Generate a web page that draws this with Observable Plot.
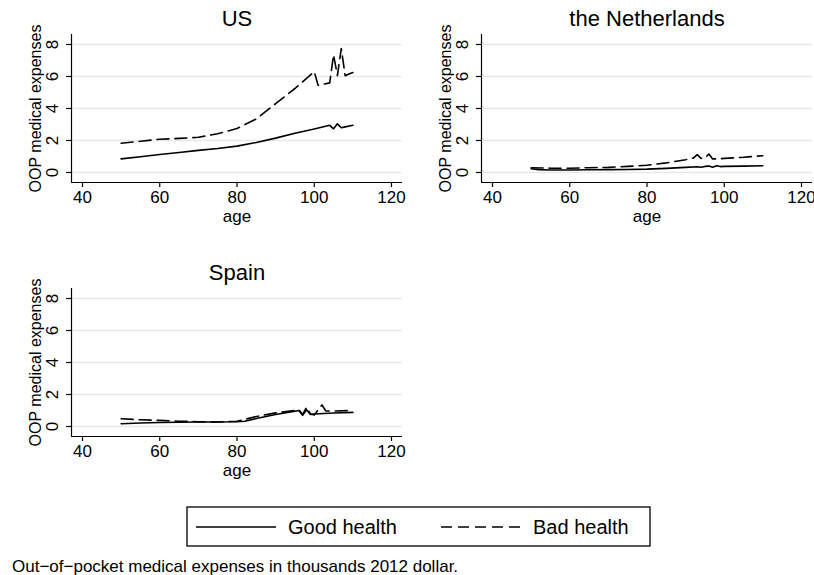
<!DOCTYPE html>
<html>
<head>
<meta charset="utf-8">
<script src="https://cdn.jsdelivr.net/npm/d3@7"></script>
<script src="https://cdn.jsdelivr.net/npm/@observablehq/plot@0.6"></script>
<style>
  html, body { margin: 0; padding: 0; background: #fff; }
  #root { position: relative; width: 814px; height: 575px; overflow: hidden; background: #fff;
          font-family: "Liberation Sans", Arial, Helvetica, sans-serif; }
  #root svg { position: absolute; }
</style>
</head>
<body>
<div id="root"></div>
<script>
// ---- data ----
const panelTitles = ["US", "the Netherlands", "Spain"];
const seriesNames = ["Good health", "Bad health"];
const xTicks = [40, 60, 80, 100, 120];
const yTicks = [0, 2, 4, 6, 8];
const xDomain = [37.15, 122.85];
const yDomain = [-0.625, 8.625];

const usGoodAge = [50, 55, 60, 65, 70, 75, 80, 85, 90, 95, 100, 104, 105, 106, 107, 108, 110];
const usGood    = [0.85, 0.98, 1.12, 1.25, 1.38, 1.5, 1.65, 1.88, 2.15, 2.45, 2.72, 2.95, 2.73, 3.04, 2.8, 2.85, 2.95];
const usBadAge  = [50, 55, 60, 65, 70, 75, 80, 85, 90, 95, 100, 101, 102, 103, 104, 105, 106, 107, 108, 109, 110];
const usBad     = [1.83, 1.95, 2.08, 2.13, 2.2, 2.42, 2.75, 3.35, 4.3, 5.25, 6.3, 5.45, 5.5, 5.55, 5.6, 7.35, 6.05, 7.75, 6.05, 6.15, 6.25];

const nlGoodAge = [50, 52, 55, 60, 65, 70, 75, 80, 85, 90, 93, 94, 95, 96, 97, 98, 99, 100, 105, 110];
const nlGood    = [0.23, 0.18, 0.16, 0.16, 0.17, 0.18, 0.19, 0.21, 0.26, 0.32, 0.36, 0.33, 0.38, 0.4, 0.33, 0.42, 0.37, 0.38, 0.4, 0.42];
const nlBadAge  = [50, 55, 60, 65, 70, 75, 80, 85, 90, 92, 93, 94, 95, 96, 97, 98, 100, 105, 110];
const nlBad     = [0.3, 0.27, 0.27, 0.3, 0.32, 0.38, 0.45, 0.6, 0.8, 0.9, 1.12, 0.88, 0.9, 1.15, 0.85, 0.85, 0.88, 0.95, 1.05];

const esGoodAge = [50, 55, 60, 65, 70, 75, 80, 82, 85, 90, 95, 96, 97, 98, 99, 100, 105, 110];
const esGood    = [0.17, 0.22, 0.25, 0.27, 0.28, 0.28, 0.3, 0.33, 0.5, 0.75, 0.95, 1.0, 0.7, 1.05, 0.75, 0.78, 0.84, 0.88];
const esBadAge  = [50, 55, 60, 65, 70, 75, 80, 85, 90, 95, 96, 97, 98, 99, 100, 102, 103, 105, 110];
const esBad     = [0.48, 0.42, 0.38, 0.33, 0.3, 0.28, 0.33, 0.62, 0.85, 1.0, 1.05, 0.75, 1.2, 0.8, 0.72, 1.35, 0.97, 0.97, 1.0];

const captionText = "Out\u2212of\u2212pocket medical expenses in thousands 2012 dollar.";
const yLabel = "OOP medical expenses";
const xLabel = "age";

// ---- build ----
const zip = (ages, vals) => ages.map((a, i) => ({age: a, v: vals[i]}));
const panels = [
  {title: panelTitles[0], good: zip(usGoodAge, usGood), bad: zip(usBadAge, usBad), left: 0, top: 0},
  {title: panelTitles[1], good: zip(nlGoodAge, nlGood), bad: zip(nlBadAge, nlBad), left: 409.7, top: 0},
  {title: panelTitles[2], good: zip(esGoodAge, esGood), bad: zip(esBadAge, esBad), left: 0, top: 254}
];
const dash = "12,6";
const root = document.getElementById("root");

for (const p of panels) {
  const svg = Plot.plot({
    width: 409,
    height: 230,
    marginLeft: 71,
    marginRight: 7,
    marginTop: 34,
    marginBottom: 48,
    style: {fontFamily: '"Liberation Sans", Arial, sans-serif', fontSize: "17px", background: "transparent", color: "black", overflow: "visible"},
    x: {domain: xDomain},
    y: {domain: yDomain},
    marks: [
      Plot.ruleY(yTicks, {y: d => d, stroke: "#e8e8e8", strokeWidth: 1.6}),
      Plot.ruleX([xDomain[0]], {stroke: "black", strokeWidth: 1.2}),
      Plot.ruleY([yDomain[0]], {stroke: "black", strokeWidth: 1.2}),
      Plot.axisY({ticks: yTicks, tickSize: 5, tickFormat: () => "", label: null, strokeWidth: 1.2}),
      Plot.axisX({ticks: xTicks, tickSize: 5, tickPadding: 3, label: null, fontSize: 17, strokeWidth: 1.2}),
      Plot.text(yTicks, {y: d => d, text: d => String(d), frameAnchor: "left", dx: -18.5, rotate: -90, fontSize: 17, textAnchor: "middle", lineAnchor: "middle"}),
      Plot.text([yLabel], {text: d => d, frameAnchor: "left", dx: -36, rotate: -90, fontSize: 16, textAnchor: "middle", lineAnchor: "middle"}),
      Plot.text([xLabel], {text: d => d, frameAnchor: "bottom", dy: 34, fontSize: 17, lineAnchor: "middle"}),
      Plot.text([p.title], {text: d => d, frameAnchor: "top", dy: -16, fontSize: 22, lineAnchor: "middle"}),
      Plot.line(p.good, {x: "age", y: "v", stroke: "black", strokeWidth: 1.6}),
      Plot.line(p.bad, {x: "age", y: "v", stroke: "black", strokeWidth: 1.6, strokeDasharray: dash})
    ]
  });
  svg.style.left = p.left + "px";
  svg.style.top = p.top + "px";
  root.appendChild(svg);
}

// legend
const ns = "http://www.w3.org/2000/svg";
const leg = document.createElementNS(ns, "svg");
leg.setAttribute("width", 466);
leg.setAttribute("height", 42);
leg.style.left = "185.5px";
leg.style.top = "505.5px";
leg.innerHTML = `
  <rect x="1" y="1" width="463" height="39" fill="white" stroke="black" stroke-width="1.3"></rect>
  <line x1="10" x2="90" y1="21" y2="21" stroke="black" stroke-width="1.6"></line>
  <text x="102" y="28" font-size="20" font-family="Liberation Sans, Arial, sans-serif">${seriesNames[0]}</text>
  <line x1="255" x2="335" y1="21" y2="21" stroke="black" stroke-width="1.6" stroke-dasharray="11,6"></line>
  <text x="347" y="28" font-size="20" font-family="Liberation Sans, Arial, sans-serif">${seriesNames[1]}</text>`;
root.appendChild(leg);

// caption
const cap = document.createElementNS(ns, "svg");
cap.setAttribute("width", 814);
cap.setAttribute("height", 24);
cap.style.left = "0px";
cap.style.top = "552px";
cap.innerHTML = `<text x="12" y="19.5" font-size="17" font-family="Liberation Sans, Arial, sans-serif">${captionText}</text>`;
root.appendChild(cap);
</script>
</body>
</html>
